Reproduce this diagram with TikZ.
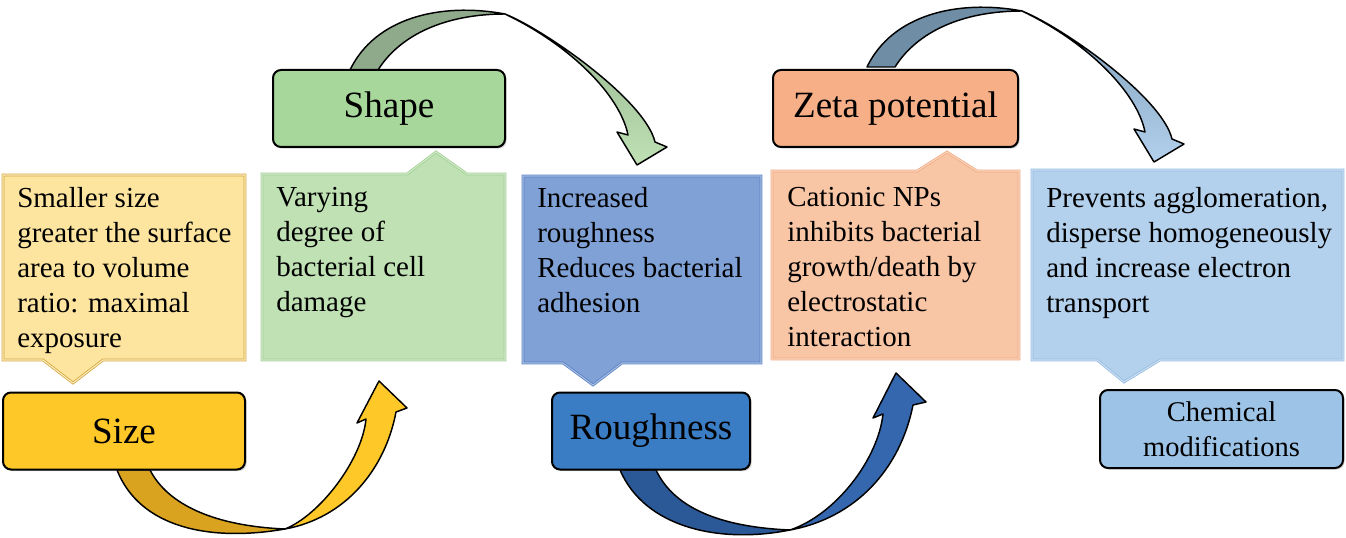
\documentclass[tikz,border=0pt]{standalone}
\usepackage{fontspec}
\setmainfont{Liberation Serif}
\usetikzlibrary{shadows}

\definecolor{sizefill}{HTML}{FFC829}
\definecolor{sizeback}{HTML}{D9A21F}
\definecolor{sizecall}{HTML}{FDE59F}
\definecolor{sizeline}{HTML}{D2A63E}
\definecolor{shapefill}{HTML}{A8D79B}
\definecolor{shapeback}{HTML}{8FA98B}
\definecolor{shapecall}{HTML}{BFE1B4}
\definecolor{shapeline}{HTML}{A2D094}
\definecolor{roughfill}{HTML}{3B7DC4}
\definecolor{roughhead}{HTML}{3467AE}
\definecolor{roughback}{HTML}{2B5896}
\definecolor{roughcall}{HTML}{80A1D6}
\definecolor{roughline}{HTML}{5A81C5}
\definecolor{zetafill}{HTML}{F7AF87}
\definecolor{zetaback}{HTML}{6F8EA6}
\definecolor{zetacall}{HTML}{F8C5A5}
\definecolor{zetaline}{HTML}{F1AB82}
\definecolor{chemfill}{HTML}{9DC3E6}
\definecolor{chemcall}{HTML}{B3D0EC}
\definecolor{chemline}{HTML}{97BDE2}

\begin{document}
\begin{tikzpicture}[x=0.75pt,y=-0.75pt,
  headbox/.style={draw=black, line width=1.5pt, rounded corners=6pt,
    minimum height=57.75pt, inner sep=0pt,
    font=\fontsize{27.8}{33}\selectfont,
    drop shadow={shadow xshift=1.2pt, shadow yshift=-1.2pt, opacity=0.35}},
  bodytxt/.style={anchor=north west, align=left, inner sep=0pt,
    font=\fontsize{21.75}{26.25}\selectfont},
  callbox/.style={line width=0.6pt, double distance=0.8pt},
  ribbon/.style={draw=black, line width=1.1pt, line join=round}]
\useasboundingbox (0,0) rectangle (1346,538);

% curved arrows (drawn first, boxes sit on their tails)
\path[ribbon, fill=sizeback] (117,470) .. controls (140,528) and (210,542) .. (285,529)
  .. controls (215,526) and (168,505) .. (150,470) -- cycle;
\path[ribbon, fill=sizefill] (285,529) .. controls (345,518) and (385,470) .. (396,412)
  -- (407,408) -- (379,381) -- (357,423) -- (366,419)
  .. controls (362,460) and (320,515) .. (285,529) -- cycle;

\path[ribbon, fill=roughback] (620,470) .. controls (645,528) and (720,544) .. (790,530)
  .. controls (720,527) and (674,508) .. (656,470) -- cycle;
\path[ribbon, fill=roughhead] (790,530) .. controls (855,518) and (900,470) .. (913,405)
  -- (926,402) -- (896,373) -- (873,418) -- (883,414)
  .. controls (878,460) and (835,515) .. (790,530) -- cycle;

\path[ribbon, fill=shapeback] (350,70) .. controls (375,18) and (440,2) .. (505,14)
  .. controls (445,14) and (400,35) .. (378,70) -- cycle;
\path[ribbon, top color=shapeback!80!shapefill, bottom color=shapecall] (505,14)
  .. controls (545,30) and (645,100) .. (655,142)
  -- (667,147) -- (637,165) -- (617,132) -- (628,135)
  .. controls (620,95) and (570,45) .. (505,14) -- cycle;

\begin{scope}[shift={(517,-3)}]
\path[ribbon, fill=zetaback] (350,70) .. controls (375,18) and (440,2) .. (505,14)
  .. controls (445,14) and (400,35) .. (378,70) -- cycle;
\path[ribbon, top color=zetaback!70!chemfill, bottom color=chemcall] (505,14)
  .. controls (545,30) and (645,100) .. (655,142)
  -- (667,147) -- (637,165) -- (617,132) -- (628,135)
  .. controls (620,95) and (570,45) .. (505,14) -- cycle;
\end{scope}

% callouts
\draw[callbox, draw=sizeline, double=sizecall!70!white, fill=sizecall]
  (3,175) -- (245,175) -- (245,360) -- (103,360) -- (73,383) -- (43,360) -- (3,360) -- cycle;
\draw[callbox, draw=shapeline, double=shapecall!70!white, fill=shapecall]
  (262,174) -- (407,174) -- (436,152) -- (467,174) -- (505,174) -- (505,360) -- (262,360) -- cycle;
\draw[callbox, draw=roughline, double=roughcall!70!white, fill=roughcall]
  (523,176) -- (761,176) -- (761,363) -- (622,363) -- (593,385) -- (563,363) -- (523,363) -- cycle;
\draw[callbox, draw=zetaline, double=zetacall!70!white, fill=zetacall]
  (772,171) -- (917,171) -- (947,152) -- (977,171) -- (1019,171) -- (1019,359) -- (772,359) -- cycle;
\draw[callbox, draw=chemline, double=chemcall!70!white, fill=chemcall]
  (1032,170) -- (1343,170) -- (1343,360) -- (1160,360) -- (1124,382) -- (1097,360) -- (1032,360) -- cycle;

\node[bodytxt] (sizetxt) at (17,187.5) {Smaller size\\greater the surface\\area to volume\\ratio: maximal\\exposure};
\node[bodytxt] (shapetxt) at (276,187.5) {Varying\\degree of\\bacterial cell\\damage};
\node[bodytxt] (roughtxt) at (537,187.5) {Increased\\roughness\\Reduces bacterial\\adhesion};
\node[bodytxt] (zetatxt) at (787,187.5) {Cationic NPs\\inhibits bacterial\\growth/death by\\electrostatic\\interaction};
\node[bodytxt] (chemtxt) at (1046,187.5) {Prevents agglomeration,\\disperse homogeneously\\and increase electron\\transport};

% header boxes
\node[headbox, fill=sizefill, minimum width=181.5pt] (size) at (124,431) {Size};
\node[headbox, fill=shapefill, minimum width=174pt] (shape) at (389,108.5) {Shape};
\node[headbox, fill=roughfill, minimum width=148.5pt] (rough) at (651,431) {Roughness};
\node[headbox, fill=zetafill, minimum width=183.75pt] (zeta) at (895.5,108.5) {Zeta potential};
\node[headbox, fill=chemfill, minimum width=182.25pt, minimum height=58.5pt, align=center,
  font=\fontsize{21.4}{26.25}\selectfont] (chem) at (1221.5,429) {Chemical\\modifications};
\end{tikzpicture}
\end{document}
